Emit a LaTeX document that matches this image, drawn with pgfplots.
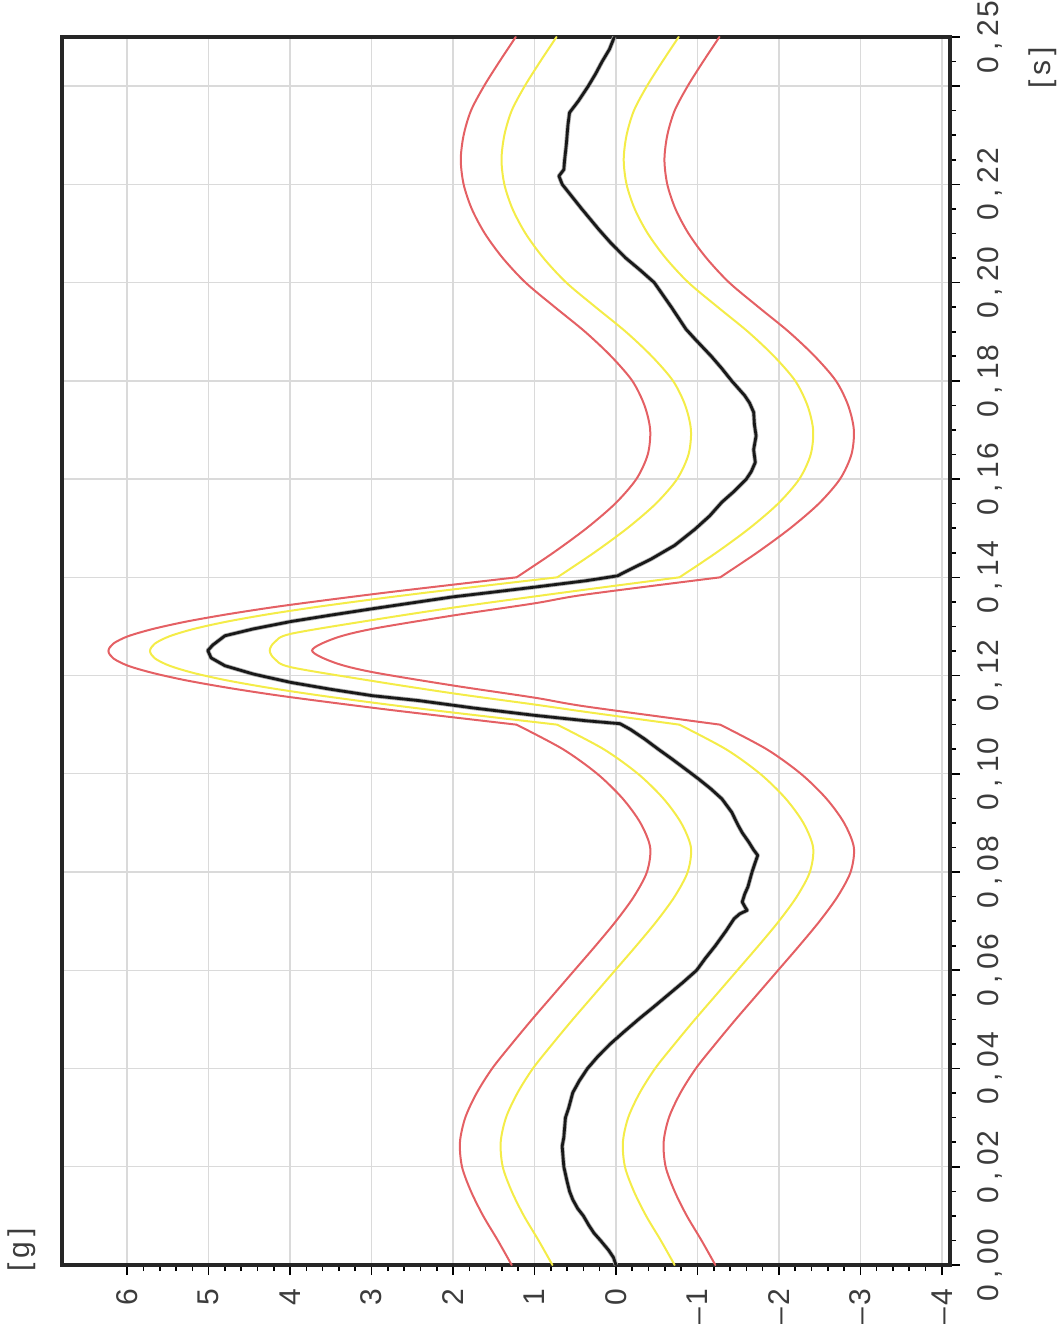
\documentclass[border=0pt]{standalone}
\usepackage{pgfplots}
\pgfplotsset{compat=1.18}
\usepackage{pgfplotstable}
\usepackage{fontspec}
\setmainfont{Liberation Sans}
\definecolor{redc}{RGB}{228,96,100}
\definecolor{yelc}{RGB}{244,236,72}
\definecolor{gridc}{RGB}{218,218,218}
\definecolor{labc}{RGB}{60,60,60}
\newcommand\mk[1]{\makebox[0.62em]{#1}}

% corridor, first smooth part: t, red left, yellow left, yellow right, red right
\pgfplotstableread{
t RL YL YR RR
0.000 1.28 0.78 -0.72 -1.22
0.005 1.45 0.95 -0.55 -1.05
0.010 1.63 1.13 -0.37 -0.87
0.015 1.78 1.28 -0.22 -0.72
0.020 1.89 1.39 -0.11 -0.61
0.025 1.915 1.415 -0.085 -0.585
0.030 1.85 1.35 -0.15 -0.65
0.035 1.71 1.21 -0.29 -0.79
0.040 1.52 1.02 -0.48 -0.98
0.045 1.28 0.78 -0.72 -1.22
0.050 1.03 0.53 -0.97 -1.47
0.055 0.77 0.27 -1.23 -1.73
0.060 0.51 0.01 -1.49 -1.99
0.065 0.25 -0.25 -1.75 -2.25
0.070 0.00 -0.50 -2.00 -2.50
0.075 -0.22 -0.72 -2.22 -2.72
0.080 -0.38 -0.88 -2.38 -2.88
0.085 -0.42 -0.92 -2.42 -2.92
0.090 -0.30 -0.80 -2.30 -2.80
0.095 -0.08 -0.58 -2.08 -2.58
0.100 0.23 -0.27 -1.77 -2.27
0.105 0.65 0.15 -1.35 -1.85
0.110 1.22 0.72 -0.78 -1.28
}\firstpart

% corridor, last smooth part
\pgfplotstableread{
t RL YL YR RR
0.140 1.22 0.72 -0.78 -1.28
0.145 0.77 0.27 -1.23 -1.73
0.150 0.36 -0.14 -1.64 -2.14
0.155 0.01 -0.49 -1.99 -2.49
0.160 -0.25 -0.75 -2.25 -2.75
0.165 -0.39 -0.89 -2.39 -2.89
0.170 -0.42 -0.92 -2.42 -2.92
0.175 -0.35 -0.85 -2.35 -2.85
0.180 -0.20 -0.70 -2.20 -2.70
0.185 0.06 -0.44 -1.94 -2.44
0.190 0.38 -0.12 -1.62 -2.12
0.195 0.75 0.25 -1.25 -1.75
0.200 1.11 0.61 -0.89 -1.39
0.205 1.39 0.89 -0.61 -1.11
0.210 1.61 1.11 -0.39 -0.89
0.215 1.77 1.27 -0.23 -0.73
0.220 1.87 1.37 -0.13 -0.63
0.225 1.905 1.405 -0.095 -0.595
0.230 1.87 1.37 -0.13 -0.63
0.235 1.78 1.28 -0.22 -0.72
0.240 1.62 1.12 -0.38 -0.88
0.245 1.43 0.93 -0.57 -1.07
0.250 1.23 0.73 -0.77 -1.27
}\lastpart

% corridor in the pulse
\pgfplotstableread{
t g
0.1100 1.22
0.1115 2.00
0.1130 2.77
0.1145 3.49
0.1160 4.17
0.1175 4.76
0.1190 5.27
0.1205 5.68
0.1220 5.99
0.1235 6.17
0.1250 6.23
0.1265 6.17
0.1280 5.99
0.1295 5.68
0.1310 5.27
0.1325 4.76
0.1340 4.17
0.1355 3.49
0.1370 2.77
0.1385 2.00
0.1400 1.22
}\pkRL

\pgfplotstableread{
t g
0.1100 0.72
0.1115 1.50
0.1130 2.27
0.1145 2.99
0.1160 3.66
0.1175 4.26
0.1190 4.77
0.1205 5.18
0.1220 5.48
0.1235 5.66
0.1250 5.72
0.1265 5.66
0.1280 5.48
0.1295 5.18
0.1310 4.77
0.1325 4.26
0.1340 3.66
0.1355 2.99
0.1370 2.27
0.1385 1.50
0.1400 0.72
}\pkYL

\pgfplotstableread{
t g
0.1100 -0.78
0.1126 0.37
0.1141 1.00
0.1164 2.01
0.1189 2.99
0.1217 3.99
0.1234 4.19
0.1251 4.25
0.1268 4.19
0.1285 3.99
0.1313 2.99
0.1338 2.01
0.1361 1.00
0.1375 0.37
0.1400 -0.78
}\pkYR

\pgfplotstableread{
t g
0.1100 -1.28
0.1137 0.37
0.1155 1.00
0.1180 2.01
0.1207 2.99
0.1226 3.45
0.1251 3.73
0.1276 3.45
0.1295 2.99
0.1322 2.01
0.1347 1.00
0.1365 0.37
0.1400 -1.28
}\pkRR

% measured signal
\pgfplotstableread{
t g
0.0000 0.00
0.0015 0.03
0.0030 0.09
0.0050 0.19
0.0065 0.27
0.0080 0.33
0.0100 0.40
0.0115 0.47
0.0133 0.53
0.0150 0.57
0.0170 0.60
0.0185 0.62
0.0200 0.64
0.0220 0.65
0.0242 0.66
0.0260 0.64
0.0280 0.63
0.0300 0.62
0.0320 0.58
0.0351 0.53
0.0375 0.45
0.0400 0.35
0.0425 0.22
0.0450 0.07
0.0475 -0.10
0.0502 -0.29
0.0525 -0.46
0.0550 -0.64
0.0575 -0.82
0.0600 -0.99
0.0625 -1.10
0.0650 -1.22
0.0680 -1.35
0.0705 -1.45
0.0715 -1.52
0.0722 -1.61
0.0730 -1.58
0.0739 -1.55
0.0755 -1.58
0.0770 -1.62
0.0800 -1.67
0.0815 -1.70
0.0834 -1.74
0.0845 -1.69
0.0861 -1.63
0.0880 -1.55
0.0895 -1.50
0.0922 -1.42
0.0949 -1.30
0.0970 -1.16
0.0990 -1.01
0.1010 -0.85
0.1031 -0.68
0.1050 -0.52
0.1071 -0.35
0.1090 -0.18
0.1102 -0.05
0.1108 0.37
0.1119 1.00
0.1134 1.75
0.1149 2.42
0.1159 2.99
0.1172 3.50
0.1186 3.99
0.1203 4.45
0.1220 4.80
0.1236 4.97
0.1251 5.01
0.1262 4.95
0.1281 4.80
0.1295 4.45
0.1310 3.99
0.1323 3.50
0.1336 2.99
0.1348 2.50
0.1360 2.01
0.1370 1.50
0.1380 1.00
0.1393 0.37
0.1403 -0.02
0.1410 -0.10
0.1437 -0.43
0.1465 -0.72
0.1498 -0.97
0.1525 -1.15
0.1553 -1.30
0.1575 -1.45
0.1600 -1.60
0.1615 -1.66
0.1634 -1.71
0.1660 -1.69
0.1688 -1.72
0.1710 -1.70
0.1736 -1.69
0.1755 -1.64
0.1770 -1.58
0.1800 -1.42
0.1825 -1.30
0.1850 -1.17
0.1885 -0.97
0.1905 -0.86
0.1950 -0.68
0.2000 -0.47
0.2025 -0.30
0.2050 -0.12
0.2080 0.06
0.2108 0.21
0.2130 0.32
0.2150 0.42
0.2175 0.54
0.2200 0.66
0.2217 0.70
0.2230 0.64
0.2250 0.63
0.2280 0.61
0.2300 0.60
0.2320 0.59
0.2346 0.57
0.2370 0.46
0.2400 0.34
0.2425 0.25
0.2450 0.17
0.2475 0.08
0.2500 0.02
}\signal

\begin{document}
\begin{tikzpicture}
\useasboundingbox (0,0) rectangle (531.5pt,668pt);
\begin{axis}[
  at={(31pt,35.5pt)}, anchor=south west,
  scale only axis, width=444pt, height=614pt,
  x dir=reverse,
  xmin=-4.10, xmax=6.80, ymin=0, ymax=0.25,
  xtick={-4,-3,-2,-1,0,1,2,3,4,5,6},
  xticklabels={{\mk{–}\mk4},{\mk{–}\mk3},{\mk{–}\mk2},{\mk{–}\mk1},\mk0,\mk1,\mk2,\mk3,\mk4,\mk5,\mk6},
  minor x tick num=4,
  ytick={0,0.02,0.04,0.06,0.08,0.10,0.12,0.14,0.16,0.18,0.20,0.22,0.24,0.25},
  yticklabels={{\mk0\mk,\mk0\mk0},{\mk0\mk,\mk0\mk2},{\mk0\mk,\mk0\mk4},{\mk0\mk,\mk0\mk6},{\mk0\mk,\mk0\mk8},{\mk0\mk,\mk1\mk0},{\mk0\mk,\mk1\mk2},{\mk0\mk,\mk1\mk4},{\mk0\mk,\mk1\mk6},{\mk0\mk,\mk1\mk8},{\mk0\mk,\mk2\mk0},{\mk0\mk,\mk2\mk2},{},{\mk0\mk,\mk2\mk5}},
  minor ytick={0.005,0.01,0.015,0.025,0.03,0.035,0.045,0.05,0.055,0.065,0.07,0.075,0.085,0.09,0.095,0.105,0.11,0.115,0.125,0.13,0.135,0.145,0.15,0.155,0.165,0.17,0.175,0.185,0.19,0.195,0.205,0.21,0.215,0.225,0.23,0.235,0.245},
  grid=major,
  major grid style={gridc, line width=0.7pt},
  axis line style={line width=1.8pt, black!85},
  tick align=outside,
  xtick pos=left, ytick pos=right,
  xticklabel pos=lower, yticklabel pos=right,
  major tick length=5pt, minor tick length=3pt,
  every tick/.style={black, line width=0.8pt},
  xticklabel style={rotate=90, anchor=east, font=\fontsize{15}{18}\selectfont, text=labc, xshift=-3pt},
  yticklabel style={rotate=90, anchor=north, font=\fontsize{15}{18}\selectfont, text=labc, yshift=-5pt},
]
% red corridor
\addplot[redc, line width=1pt, smooth, line cap=round] table[x=RL, y=t] {\firstpart};
\addplot[redc, line width=1pt, smooth, line cap=round] table[x=RR, y=t] {\firstpart};
\addplot[redc, line width=1pt, smooth, line cap=round] table[x=g, y=t] {\pkRL};
\addplot[redc, line width=1pt, smooth, line cap=round] table[x=g, y=t] {\pkRR};
\addplot[redc, line width=1pt, smooth, line cap=round] table[x=RL, y=t] {\lastpart};
\addplot[redc, line width=1pt, smooth, line cap=round] table[x=RR, y=t] {\lastpart};
% yellow corridor
\addplot[yelc, line width=1pt, smooth, line cap=round] table[x=YL, y=t] {\firstpart};
\addplot[yelc, line width=1pt, smooth, line cap=round] table[x=YR, y=t] {\firstpart};
\addplot[yelc, line width=1pt, smooth, line cap=round] table[x=g, y=t] {\pkYL};
\addplot[yelc, line width=1pt, smooth, line cap=round] table[x=g, y=t] {\pkYR};
\addplot[yelc, line width=1pt, smooth, line cap=round] table[x=YL, y=t] {\lastpart};
\addplot[yelc, line width=1pt, smooth, line cap=round] table[x=YR, y=t] {\lastpart};
% measured signal
\addplot[gray!60, line width=2.2pt, line join=round] table[x=g, y=t] {\signal};
\addplot[black!90, line width=1.4pt, line join=round] table[x=g, y=t] {\signal};
\end{axis}
\node[rotate=90, font=\fontsize{15}{18}\selectfont, text=labc] at (11pt,43pt) {[\,g\,]};
\node[rotate=90, font=\fontsize{15}{18}\selectfont, text=labc] at (521.5pt,634pt) {[\,s\,]};
\end{tikzpicture}
\end{document}
